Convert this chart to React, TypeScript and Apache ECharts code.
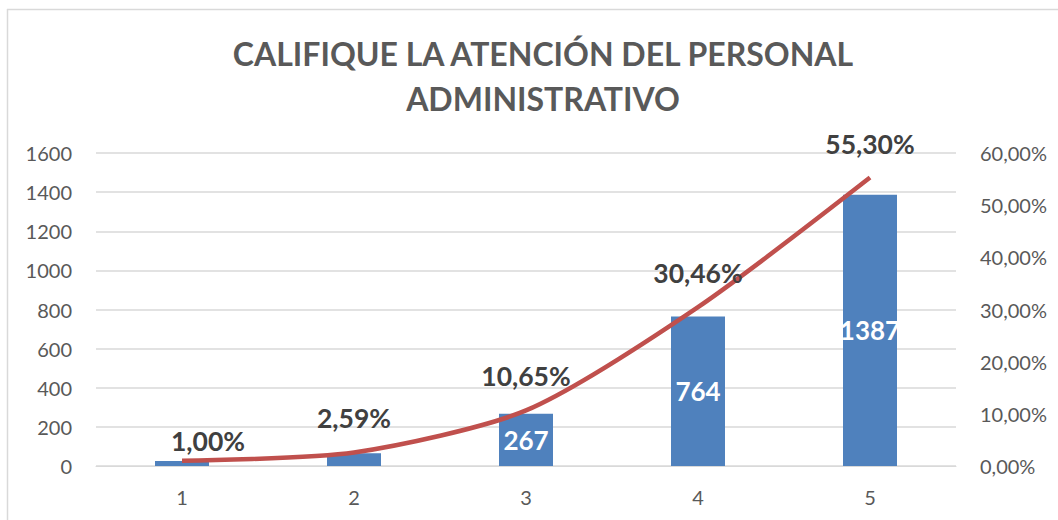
import React, { useEffect, useRef } from "react";
import * as echarts from "echarts";

const categories = ["1", "2", "3", "4", "5"];
const counts = [25, 65, 267, 764, 1387];
const percents = [1.0, 2.59, 10.65, 30.46, 55.3];
const hiddenCountLabels = [true, true, false, false, false];
const titleText = "CALIFIQUE LA ATENCIÓN DEL PERSONAL\nADMINISTRATIVO";

const FONT = "Lato, 'Open Sans', sans-serif";
const GREY = "#595959";

export default function App() {
  const ref = useRef<HTMLDivElement>(null);
  useEffect(() => {
    if (!ref.current) return;
    const chart = echarts.init(ref.current, undefined, { renderer: "svg" });
    const fmtPct = (v: number) => v.toFixed(2).replace(".", ",") + "%";
    chart.setOption({
      animation: false,
      backgroundColor: "#ffffff",
      textStyle: { fontFamily: FONT },
      title: {
        text: titleText,
        left: 538,
        top: 26,
        textAlign: "center",
        textStyle: {
          fontFamily: FONT,
          fontSize: 32,
          fontWeight: "bold",
          color: GREY,
          lineHeight: 45,
        },
      },
      graphic: [
        { type: "line", shape: { x1: 7.5, y1: 9, x2: 7.5, y2: 520 }, style: { stroke: "#d9d9d9", lineWidth: 1.5 } },
        { type: "line", shape: { x1: 7, y1: 9.5, x2: 1058, y2: 9.5 }, style: { stroke: "#d9d9d9", lineWidth: 1.5 } },
      ],
      grid: { left: 96, right: 102, top: 153, bottom: 54 },
      xAxis: {
        type: "category",
        data: categories,
        axisLine: { show: true, lineStyle: { color: "#d9d9d9", width: 1 } },
        axisTick: { show: false },
        axisLabel: { color: GREY, fontSize: 20, fontFamily: FONT, margin: 21 },
      },
      yAxis: [
        {
          type: "value",
          min: 0,
          max: 1600,
          interval: 200,
          axisLine: { show: false },
          axisTick: { show: false },
          splitLine: { lineStyle: { color: "#d9d9d9", width: 1.5 } },
          axisLabel: {
            color: GREY,
            fontSize: 20,
            fontFamily: FONT,
            margin: 24,
            formatter: (v: number) => String(v),
          },
        },
        {
          type: "value",
          min: 0,
          max: 60,
          interval: 10,
          position: "right",
          axisLine: { show: false },
          axisTick: { show: false },
          splitLine: { show: false },
          axisLabel: {
            color: GREY,
            fontSize: 20,
            fontFamily: FONT,
            margin: 24,
            formatter: (v: number) => fmtPct(v),
          },
        },
      ],
      series: [
        {
          type: "bar",
          yAxisIndex: 0,
          data: counts.map((v, i) => ({
            value: v,
            label: { show: !hiddenCountLabels[i] },
          })),
          barWidth: 54,
          itemStyle: { color: "#4f81bd" },
          label: {
            show: true,
            position: "inside",
            color: "#ffffff",
            fontSize: 26,
            fontWeight: "bold",
            fontFamily: FONT,
          },
        },
        {
          type: "line",
          yAxisIndex: 1,
          smooth: 0.25,
          symbol: "circle",
          showSymbol: true,
          symbolSize: 1,
          data: percents.map((v, i) =>
            i === 0 ? { value: v, label: { offset: [26, 14] } } : { value: v }
          ),
          lineStyle: { color: "#c0504d", width: 4.5 },
          itemStyle: { color: "rgba(0,0,0,0)" },
          label: {
            show: true,
            position: "top",
            distance: 20,
            color: "#404040",
            fontSize: 26.5,
            fontWeight: "bold",
            fontFamily: FONT,
            formatter: (p: any) => fmtPct(p.value),
          },
          z: 5,
        },
      ],
    });
    return () => chart.dispose();
  }, []);
  return (
    <div
      ref={ref}
      style={{ position: "fixed", left: 0, top: 0, width: 1058, height: 520 }}
    />
  );
}
